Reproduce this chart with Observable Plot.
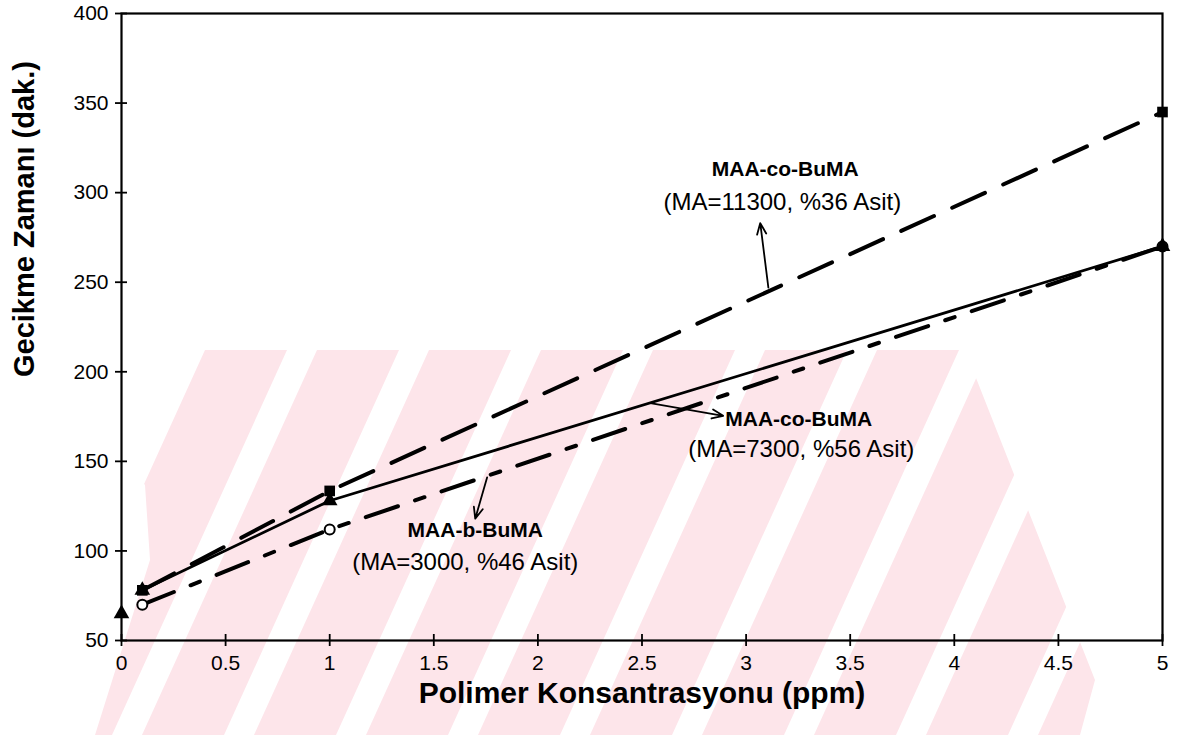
<!DOCTYPE html>
<html>
<head>
<meta charset="utf-8">
<script src="https://cdn.jsdelivr.net/npm/d3@7"></script>
<script src="https://cdn.jsdelivr.net/npm/@observablehq/plot@0.6"></script>
<style>
  body { margin: 0; background: #fff; }
  #wrap { position: relative; width: 1179px; height: 735px; overflow: hidden; }
  #emblem, #chart { position: absolute; left: 0; top: 0; }
  #chart svg { background: transparent; font-family: "Liberation Sans", Arial, sans-serif; }
</style>
</head>
<body>
<div id="wrap">
  <svg id="emblem" width="1179" height="735"></svg>
  <div id="chart"></div>
</div>
<script>
// Polymer concentration (ppm) and retardation time (min) per polymer
const conc = [0.1, 1, 5];
const co11300 = [78, 133.5, 345];   // MAA-co-BuMA (MA=11300, %36 Asit)
const co7300 = [78, 128, 270];      // MAA-co-BuMA (MA=7300, %56 Asit)
const b3000 = [70, 112, 270];       // MAA-b-BuMA (MA=3000, %46 Asit)
const blankConc = [0];
const blankTime = [65];

const xTicks = [0, 0.5, 1, 1.5, 2, 2.5, 3, 3.5, 4, 4.5, 5];
const yTicks = [50, 100, 150, 200, 250, 300, 350, 400];

const xTitle = "Polimer Konsantrasyonu (ppm)";
const yTitle = "Gecikme Zamanı (dak.)";

// curve labels: name (bold) and composition line, anchor points in data units
const nameText = ["MAA-co-BuMA", "MAA-co-BuMA", "MAA-b-BuMA"];
const nameX = [3.188, 2.9, 1.699];
const nameY = [312.8, 173.7, 111.7];
const infoText = ["(MA=11300, %36 Asit)", "(MA=7300, %56 Asit)", "(MA=3000, %46 Asit)"];
const infoX = [3.174, 3.265, 1.651];
const infoY = [294.4, 157, 93.9];

// leader arrows from each curve to its label
const arrowX1 = [3.107, 2.54, 1.756];
const arrowY1 = [247, 182.5, 141];
const arrowX2 = [3.068, 2.89, 1.699];
const arrowY2 = [283, 175.4, 118];

const rows = (ys) => conc.map((x, i) => ({x, y: ys[i]}));
const s11300 = rows(co11300);
const s7300 = rows(co7300);
const s3000 = rows(b3000);
const blank = blankConc.map((x, i) => ({x, y: blankTime[i]}));
const names = nameText.map((t, i) => ({t, x: nameX[i], y: nameY[i]}));
const infos = infoText.map((t, i) => ({t, x: infoX[i], y: infoY[i]}));
const arrows = arrowX1.map((x1, i) => ({x1, y1: arrowY1[i], x2: arrowX2[i], y2: arrowY2[i]}));

const chart = Plot.plot({
  width: 1179,
  height: 735,
  marginLeft: 121,
  marginRight: 17,
  marginTop: 13,
  marginBottom: 95,
  x: {domain: [0, 5]},
  y: {domain: [50, 400]},
  style: {background: "transparent", fontFamily: "Liberation Sans, Arial, sans-serif", fontSize: "21px", color: "black"},
  marks: [
    Plot.frame({stroke: "black", strokeWidth: 2.2}),
    // crossing tick marks
    Plot.axisY(yTicks, {tickSize: 12, dx: 6, tickFormat: () => "", label: null, strokeWidth: 1.8}),
    Plot.axisX(xTicks, {tickSize: 12, dy: -6, tickFormat: () => "", label: null, strokeWidth: 1.8}),
    // tick labels
    Plot.axisY(yTicks, {tickSize: 0, tickPadding: 13, label: null, fontSize: 21}),
    Plot.axisX(xTicks, {tickSize: 0, tickPadding: 15, label: null, fontSize: 21, tickFormat: d => String(d)}),
    // axis titles
    Plot.text([yTitle], {frameAnchor: "left", dx: -97, dy: 50, rotate: -90, fontSize: 29, fontWeight: "bold"}),
    Plot.text([xTitle], {frameAnchor: "bottom", dx: 0, dy: 62, fontSize: 30, fontWeight: "bold"}),
    // curves
    Plot.line(s11300, {x: "x", y: "y", stroke: "black", strokeWidth: 4, strokeDasharray: "36,20"}),
    Plot.line(s3000, {x: "x", y: "y", stroke: "black", strokeWidth: 4, strokeDasharray: "34,18,10,18"}),
    Plot.line(s7300, {x: "x", y: "y", stroke: "black", strokeWidth: 2.8}),
    Plot.dot(s11300, {x: "x", y: "y", symbol: "square", r: 6, fill: "black"}),
    Plot.dot(s3000, {x: "x", y: "y", symbol: "circle", r: 5, fill: "white", stroke: "black", strokeWidth: 2}),
    Plot.dot(s7300, {x: "x", y: "y", symbol: "triangle", r: 5.8, fill: "black"}),
    Plot.dot(blank, {x: "x", y: "y", symbol: "triangle", r: 5.8, fill: "black"}),
    // leader arrows and labels
    Plot.arrow(arrows, {x1: "x1", y1: "y1", x2: "x2", y2: "y2", stroke: "black", strokeWidth: 1.8, headLength: 10, headAngle: 45}),
    Plot.text(names.slice(0, 1), {x: "x", y: "y", text: "t", fontWeight: "bold", fontSize: 21}),
    Plot.text(names.slice(1, 2), {x: "x", y: "y", text: "t", textAnchor: "start", fontWeight: "bold", fontSize: 21}),
    Plot.text(names.slice(2), {x: "x", y: "y", text: "t", fontWeight: "bold", fontSize: 21}),
    Plot.text(infos, {x: "x", y: "y", text: "t", fontSize: 24})
  ]
});
document.getElementById("chart").appendChild(chart);

// faint striped emblem behind the chart
(function drawEmblem() {
  const svg = d3.select("#emblem");
  const pink = "#fde5ea";
  const defs = svg.append("defs");
  defs.append("clipPath").attr("id", "emblemClip")
    .append("polygon")
    .attr("points", "33,350 965,350 1095,680 1080,735 95,735 150,560 145,485");
  const g = svg.append("g").attr("clip-path", "url(#emblemClip)");
  const top = 350, bottom = 735, shift = (bottom - top) / 2.2;
  for (let x0 = 30; x0 < 1150; x0 += 112) {
    g.append("polygon")
      .attr("fill", pink)
      .attr("points", `${x0},${bottom} ${x0 + 82},${bottom} ${x0 + 82 + shift},${top} ${x0 + shift},${top}`);
  }
})();
</script>
</body>
</html>
